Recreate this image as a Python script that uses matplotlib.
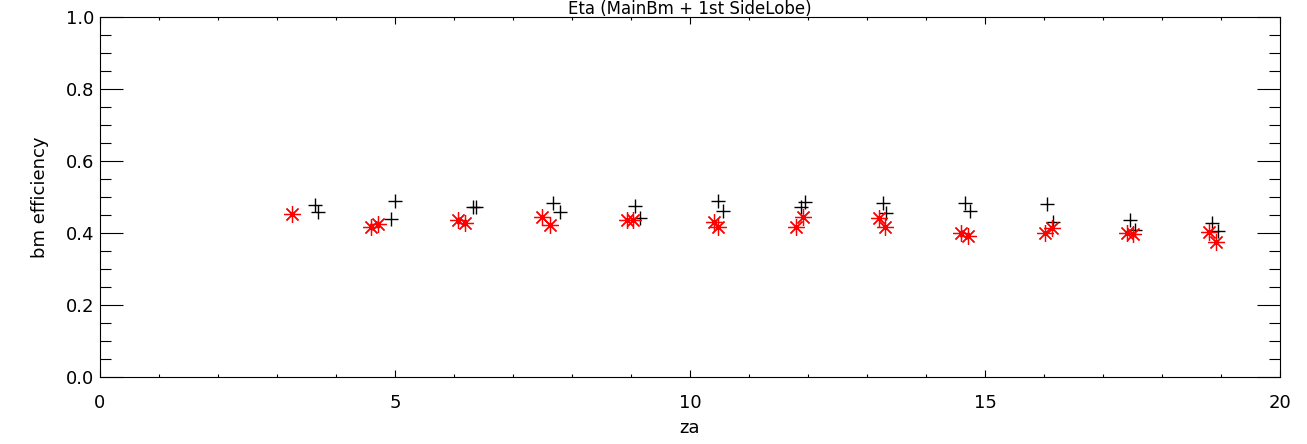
import matplotlib
matplotlib.use('Agg')
import matplotlib.pyplot as plt
import numpy as np
from matplotlib import rcParams
from matplotlib.ticker import MultipleLocator

rcParams['font.family'] = ['DejaVu Sans']
rcParams['axes.linewidth'] = 0.8

# black plus points (za, efficiency)
za_plus = [3.64, 3.70, 4.94, 5.00, 6.32, 6.38, 7.68, 7.79, 9.07, 9.15, 10.48, 10.56,
           11.88, 11.95, 13.27, 13.33, 14.66, 14.75, 16.05, 16.16, 17.45, 17.54, 18.84, 18.95]
eff_plus = [0.478, 0.459, 0.438, 0.490, 0.473, 0.473, 0.484, 0.459, 0.475, 0.442, 0.489, 0.462,
            0.473, 0.487, 0.484, 0.456, 0.482, 0.461, 0.481, 0.431, 0.436, 0.408, 0.427, 0.406]

# red asterisk points
za_star = [3.25, 4.60, 4.72, 6.07, 6.19, 7.49, 7.62, 8.93, 9.03, 10.40, 10.48, 11.80,
           11.91, 13.20, 13.31, 14.60, 14.72, 16.02, 16.13, 17.40, 17.50, 18.79, 18.92]
eff_star = [0.454, 0.418, 0.425, 0.436, 0.429, 0.444, 0.423, 0.436, 0.436, 0.430, 0.418, 0.416,
            0.445, 0.441, 0.418, 0.399, 0.393, 0.399, 0.413, 0.399, 0.397, 0.404, 0.376]

fig = plt.figure(figsize=(13.07, 4.44), dpi=100)
ax = fig.add_axes([100 / 1307, 67 / 444, 1180 / 1307, 360 / 444])

ax.plot(za_plus, eff_plus, linestyle='none', marker='+', color='black',
        markersize=10, markeredgewidth=1.0)
ax.plot(za_star, eff_star, linestyle='none', marker=(8, 2, 0), color='red',
        markersize=12, markeredgewidth=0.9)

ax.set_xlim(0, 20)
ax.set_ylim(0, 1.0)
ax.xaxis.set_major_locator(MultipleLocator(5))
ax.xaxis.set_minor_locator(MultipleLocator(1))
ax.yaxis.set_major_locator(MultipleLocator(0.2))
ax.yaxis.set_minor_locator(MultipleLocator(0.05))
ax.set_xticklabels([f'{v:g}' for v in ax.get_xticks()])
ax.set_yticks(np.arange(0, 1.01, 0.2))
ax.set_yticklabels([f'{v:.1f}' for v in np.arange(0, 1.01, 0.2)])

# IDL style ticks: inward on all sides, y ticks longer than x ticks
ax.tick_params(axis='x', which='major', direction='in', top=True, length=5, width=0.8,
               labelsize=13, pad=12)
ax.tick_params(axis='x', which='minor', direction='in', top=True, length=2.5, width=0.8)
ax.tick_params(axis='y', which='major', direction='in', right=True, length=16.5, width=0.8,
               labelsize=13, pad=4)
ax.tick_params(axis='y', which='minor', direction='in', right=True, length=8, width=0.8)

ax.set_xlabel('za', fontsize=13, labelpad=5)
ax.set_ylabel('bm efficiency', fontsize=13, labelpad=12)

# title sits right at the top edge
fig.text(690 / 1307, 1.0, 'Eta (MainBm + 1st SideLobe)', ha='center', va='top',
         fontsize=12)

fig.savefig('out.png', dpi=100)
